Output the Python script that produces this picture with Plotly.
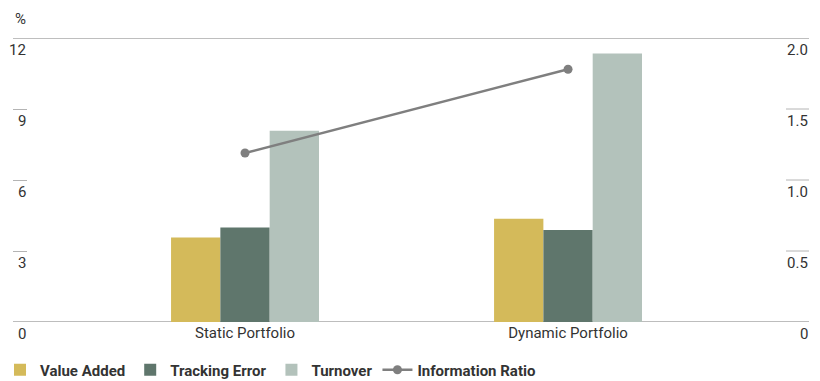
import plotly.graph_objects as go

# Portfolio comparison data
categories = ["Static Portfolio", "Dynamic Portfolio"]
value_added = [3.57, 4.36]
tracking_error = [3.99, 3.89]
turnover = [8.08, 11.34]
information_ratio = [1.19, 1.78]

left_ticks = [0, 3, 6, 9, 12]
left_tick_text = ["0", "3", "6", "9", "12"]
right_ticks = [0, 0.5, 1.0, 1.5, 2.0]
right_tick_text = ["0", "0.5", "1.0", "1.5", "2.0"]

FONT = "Roboto, DejaVu Sans Condensed, sans-serif"
TEXT = "#333333"
RULE = "#B4B4B4"


def font(size=15, bold=False):
    f = dict(family=FONT, size=size, color=TEXT)
    if bold:
        f["weight"] = "bold"
    return f


fig = go.Figure()
fig.add_trace(go.Bar(name="Value Added", x=categories, y=value_added,
                     marker=dict(color="#D4BA5A", line=dict(width=0))))
fig.add_trace(go.Bar(name="Tracking Error", x=categories, y=tracking_error,
                     marker=dict(color="#5F766C", line=dict(width=0))))
fig.add_trace(go.Bar(name="Turnover", x=categories, y=turnover,
                     marker=dict(color="#B3C2BB", line=dict(width=0))))
fig.add_trace(go.Scatter(name="Information Ratio", x=categories, y=information_ratio,
                         yaxis="y2", mode="lines+markers",
                         line=dict(color="#7F7F7F", width=2.5),
                         marker=dict(color="#7F7F7F", size=9)))

fig.update_layout(
    template="none",
    width=820, height=381,
    margin=dict(l=13, r=11, t=38, b=59, autoexpand=False),
    paper_bgcolor="white", plot_bgcolor="white",
    font=font(),
    barmode="group", bargap=0.542, bargroupgap=0,
    showlegend=True,
    legend=dict(orientation="h", xref="container", yref="container",
                x=0.0, xanchor="left", y=1 - 370 / 381, yanchor="middle",
                font=font(15, bold=True), bgcolor="rgba(0,0,0,0)",
                traceorder="normal", itemwidth=30),
    xaxis=dict(type="category", range=[-0.7183, 1.746], showgrid=False,
               showline=False, zeroline=False, ticks="", automargin=False,
               tickfont=font()),
    yaxis=dict(range=[0, 12], tickvals=left_ticks, showticklabels=False,
               ticks="inside", ticklen=14, tickcolor=RULE, tickwidth=1,
               showgrid=False, zeroline=False, showline=False, automargin=False),
    yaxis2=dict(range=[0, 2], overlaying="y", side="right", tickvals=right_ticks,
                showticklabels=False, ticks="", showgrid=False, zeroline=False,
                showline=False, automargin=False),
)

# Full-width rules at the bottom and top of the scale
fig.add_shape(type="line", xref="paper", yref="y", x0=0, x1=1,
              y0=left_ticks[0], y1=left_ticks[0],
              line=dict(color="#BDBDBD", width=2), layer="below")
fig.add_shape(type="line", xref="paper", yref="y", x0=0, x1=1,
              y0=left_ticks[-1], y1=left_ticks[-1],
              line=dict(color="#A8A8A8", width=1.5), layer="below")

# Short tick marks on the right-hand scale
for v in right_ticks[1:-1]:
    fig.add_shape(type="line", xref="paper", yref="y2", x0=1 - 23 / 796, x1=1,
                  y0=v, y1=v, line=dict(color=RULE, width=1), layer="below")

# Axis labels sit just beneath their tick marks
for v, t in zip(left_ticks, left_tick_text):
    fig.add_annotation(x=14 / 796, xref="paper", y=v, yref="y", text=t,
                       showarrow=False, xanchor="right", yanchor="top", yshift=-1,
                       xshift=1, font=font())
for v, t in zip(right_ticks, right_tick_text):
    fig.add_annotation(x=1, xref="paper", y=v, yref="y2", text=t,
                       showarrow=False, xanchor="right", yanchor="top", yshift=-1,
                       xshift=1, font=font())

fig.add_annotation(x=0, xref="paper", y=1, yref="paper", text="%", showarrow=False,
                   xanchor="left", yanchor="bottom", yshift=8, font=font())

fig.write_html("out.html")
